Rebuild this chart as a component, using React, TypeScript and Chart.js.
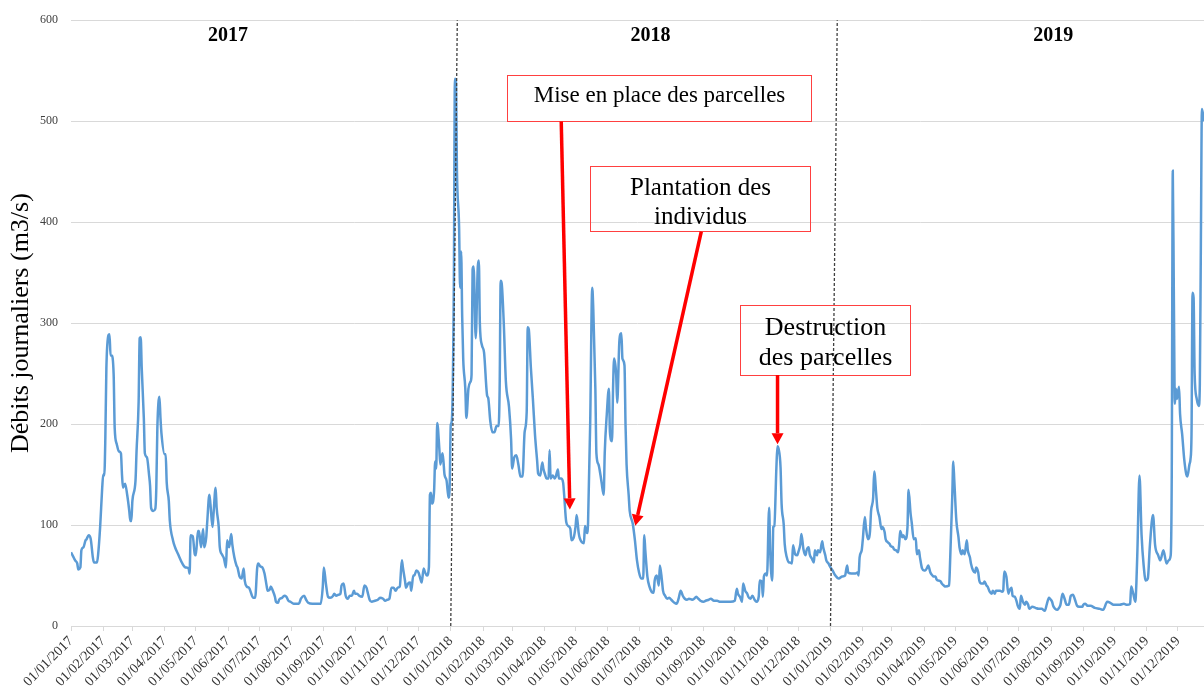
import React, { useEffect, useRef } from "react";
import { Chart, registerables } from "chart.js";

Chart.register(...registerables);

// Days elapsed since 01/01/2017
const dayOffsets: number[] = [
  0, 2, 4, 6, 7, 9, 10, 12, 14, 15, 17, 19, 21, 22, 25, 26, 28, 30, 31, 32, 33, 34, 36, 37, 38, 39, 41, 42, 44, 46, 48, 49, 50, 52, 54, 56, 57, 58, 59, 62, 63, 65, 66, 67, 68, 70, 71, 73, 75, 76, 77, 79, 81, 82, 83, 85, 86, 87, 90, 91, 92, 94, 95, 98, 100, 103, 107, 110, 113, 114, 115, 117, 119, 120, 122, 123, 125, 127, 128, 130, 131, 133, 134, 136, 137, 139, 140, 142, 143, 145, 147, 149, 150, 152, 154, 155, 157, 159, 160, 162, 164, 166, 167, 169, 171, 172, 175, 177, 179, 180, 182, 184, 186, 188, 189, 191, 192, 194, 196, 197, 199, 200, 203, 205, 207, 209, 211, 214, 217,
  219, 221, 224, 226, 228, 232, 236, 240, 242, 243, 245, 247, 249, 252, 253, 255, 257, 259, 260, 262, 264, 266, 268, 270, 272, 273, 275, 277, 280, 282, 284, 285, 287, 289, 292, 295, 297, 300, 302, 304, 306, 308, 310, 312, 314, 316, 318, 319, 321, 322, 324, 326, 327, 329, 330, 332, 334, 336, 337, 339, 340, 342, 344, 345, 346, 347, 349, 350, 351, 352, 354, 355, 357, 358, 359, 361, 362, 363, 364, 365, 366,
  368, 369, 370, 371, 373, 374, 375, 376, 377, 379, 380, 382, 384, 385, 386, 387, 389, 391, 392, 393, 395, 397, 400, 401, 403, 405, 407, 409, 411, 412, 413, 414, 416, 418, 421, 423, 424, 426, 428, 430, 432, 434, 436, 438, 439, 440, 442, 444, 446, 448, 449, 451, 453, 454, 456, 457, 459, 460, 461, 463, 465, 466, 468, 469, 471, 473, 474, 476, 478, 480, 481, 483, 485, 486, 488, 489, 491, 493, 494, 496, 497, 499, 501, 502, 504, 505, 507, 509, 510, 512, 513, 515, 517, 518, 520, 521, 522, 524, 525, 527, 528,
  529, 530, 532, 533, 534, 536, 537, 540, 542, 544, 546, 548, 550, 551, 552, 554, 556, 558, 560, 561, 563, 565, 566, 568, 569, 571, 573, 575, 577, 580, 582, 584, 586, 588, 590, 592, 594, 597, 599, 601, 603, 605, 608, 610, 613, 615, 618, 621, 624, 627, 630, 634, 638, 640, 641, 643, 645, 646, 648, 650, 651, 653, 655, 657, 659, 661, 662, 664, 665, 666, 668, 669, 671, 672, 674, 675, 676, 678, 679, 680, 682, 683, 685, 686, 688, 690, 691, 693, 694, 696, 698, 699, 701, 702, 704, 706, 707, 709, 710, 712, 714, 715, 717, 718, 720, 722, 723, 725, 726, 728, 730, 732, 734, 738, 741, 744, 746, 747, 750, 754, 756,
  757, 758, 760, 761, 763, 764, 766, 768, 769, 771, 772, 774, 775, 777, 779, 780, 782, 783, 785, 787, 788, 790, 791, 793, 795, 796, 797, 799, 800, 802, 804, 805, 807, 808, 810, 812, 813, 815, 816, 818, 820, 821, 823, 824, 826, 828, 829, 831, 832, 834, 836, 837, 839, 840, 844, 845, 847, 848, 849, 851, 853, 854, 856, 857, 859, 861, 862, 864, 865, 867, 869, 870, 872, 873, 875, 877, 878, 880, 881, 883, 885, 886, 888, 889, 891, 893, 895, 896, 897, 899, 901, 902, 904, 905, 907, 909, 910, 912, 913, 915, 917, 918, 920, 921, 924, 927, 930, 933, 936, 938, 940, 941, 943, 944, 946, 948, 949, 951, 953, 955, 957, 959, 961, 963, 965, 967, 969, 972, 973, 975, 977, 980,
  984, 989, 992, 996, 999, 1002, 1005, 1008, 1012, 1015, 1018, 1019, 1021, 1023, 1024, 1025, 1027, 1029, 1031, 1033, 1035, 1037, 1040, 1042, 1045, 1047, 1050, 1053, 1055, 1057, 1058, 1059, 1060, 1061, 1062, 1063, 1065, 1066, 1068, 1070, 1072, 1073, 1075, 1076, 1077, 1078, 1079, 1080, 1082, 1084, 1085, 1086, 1087, 1089,
];

// Daily discharge (m3/s)
const dailyFlows: number[] = [
  73, 69, 65, 62, 56, 58, 75, 78, 85, 86, 90, 86, 68, 63, 63, 70, 98, 137, 150, 149, 186, 255, 288, 289, 268, 268, 249, 196, 180, 173, 171, 150, 137, 141, 130, 114, 104, 104, 124, 144, 173, 222, 285, 286, 255, 206, 171, 167, 150, 139, 117, 114, 116, 137, 196, 227, 206, 190, 170, 170, 142, 124, 104, 85, 78, 71, 62, 58, 57, 52, 90, 89, 71, 70, 94, 94, 78, 96, 78, 88, 104, 130, 121, 98, 111, 137, 117, 98, 78, 71, 67, 58, 85, 78, 91, 81, 68, 60, 58, 49, 47, 57, 45, 39, 38, 36, 28, 28, 58, 62, 59, 58, 52, 40, 35, 36, 39, 35, 29, 24, 23, 26, 28, 30, 29, 25, 24, 22, 22,
  22, 27, 30, 26, 23, 22, 22, 22, 39, 58, 42, 29, 28, 30, 32, 30, 31, 32, 40, 42, 30, 27, 30, 30, 35, 32, 32, 30, 29, 40, 38, 34, 26, 24, 25, 26, 28, 27, 25, 26, 27, 38, 38, 35, 38, 39, 65, 58, 45, 38, 42, 43, 35, 50, 50, 55, 53, 46, 43, 57, 54, 50, 58, 130, 132, 121, 134, 163, 156, 201, 176, 160, 171, 163, 150, 144, 134, 127, 140, 199, 203,
  342, 542, 539, 449, 396, 335, 371, 306, 264, 235, 206, 235, 242, 249, 353, 356, 285, 356, 362, 299, 278, 271, 228, 226, 203, 192, 192, 198, 198, 235, 342, 339, 299, 242, 217, 185, 156, 167, 169, 160, 148, 148, 192, 212, 296, 294, 256, 224, 189, 164, 151, 149, 162, 156, 149, 146, 146, 174, 146, 149, 146, 148, 155, 146, 146, 142, 130, 103, 99, 96, 85, 87, 99, 110, 92, 87, 83, 82, 99, 92, 103, 199, 335, 314, 235, 171, 160, 149, 142, 130, 171, 210, 235, 192, 183, 235, 265, 249, 221, 281, 289,
  290, 265, 258, 199, 160, 130, 114, 101, 85, 65, 53, 47, 47, 90, 75, 49, 39, 34, 33, 45, 50, 40, 60, 45, 35, 30, 27, 28, 26, 23, 22, 27, 35, 30, 27, 26, 27, 26, 27, 29, 27, 25, 24, 25, 26, 27, 25, 25, 24, 24, 24, 24, 25, 37, 32, 29, 24, 42, 35, 32, 29, 27, 30, 26, 24, 29, 45, 44, 29, 49, 52, 50, 117, 75, 45, 98, 99, 157, 178, 176, 157, 121, 101, 81, 68, 63, 63, 62, 80, 71, 70, 73, 81, 91, 76, 70, 75, 78, 71, 67, 63, 75, 70, 75, 73, 84, 78, 70, 65, 62, 58, 55, 51, 47, 49, 50, 60, 53, 52, 52, 53,
  50, 68, 75, 85, 108, 98, 86, 94, 114, 127, 153, 130, 117, 108, 96, 98, 93, 86, 83, 81, 79, 78, 76, 75, 73, 81, 94, 88, 90, 86, 98, 135, 111, 103, 86, 87, 71, 75, 68, 57, 55, 55, 58, 60, 53, 50, 49, 49, 46, 45, 44, 42, 40, 39, 40, 65, 127, 163, 144, 104, 88, 78, 71, 75, 71, 85, 75, 68, 62, 55, 53, 58, 53, 45, 42, 42, 44, 40, 39, 34, 32, 35, 32, 35, 35, 35, 34, 35, 54, 49, 32, 35, 38, 30, 29, 24, 20, 17, 30, 24, 21, 24, 21, 17, 19, 18, 17, 17, 15, 22, 28, 27, 24, 20, 17, 16, 17, 21, 32, 27, 21, 21, 30, 31, 26, 20, 19, 19, 21, 22, 20, 20,
  18, 17, 16, 24, 23, 21, 21, 21, 22, 21, 22, 39, 32, 24, 42, 75, 149, 90, 60, 45, 47, 80, 110, 80, 70, 65, 75, 62, 65, 70, 150, 451, 330, 220, 235, 225, 237, 210, 190, 165, 150, 148, 160, 165, 190, 330, 325, 250, 225, 218, 240, 380, 512, 500,
];

const monthTickLabels: string[] = [
  "01/01/2017", "01/02/2017", "01/03/2017", "01/04/2017", "01/05/2017", "01/06/2017", "01/07/2017", "01/08/2017", "01/09/2017", "01/10/2017", "01/11/2017", "01/12/2017",
  "01/01/2018", "01/02/2018", "01/03/2018", "01/04/2018", "01/05/2018", "01/06/2018", "01/07/2018", "01/08/2018", "01/09/2018", "01/10/2018", "01/11/2018", "01/12/2018",
  "01/01/2019", "01/02/2019", "01/03/2019", "01/04/2019", "01/05/2019", "01/06/2019", "01/07/2019", "01/08/2019", "01/09/2019", "01/10/2019", "01/11/2019", "01/12/2019",
];

const yAxisTitle = "Débits journaliers (m3/s)";

const yearLabels = ["2017", "2018", "2019"];
const yearLabelDays = [151, 557, 944];
const yearLabelValue = 585;

// dashed year separators (slightly slanted, as in the original)
const separatorBottomDays = [365, 730];
const separatorTopDays = [371.3, 736.5];

const calloutTexts: string[][] = [
  ["Mise en place des parcelles"],
  ["Plantation des", "individus"],
  ["Destruction", "des parcelles"],
];
const calloutFontSizes = [23, 25, 26];
// boxes in data units: [dayStart, dayEnd, valueTop, valueBottom]
const calloutBoxes: number[][] = [
  [419.0, 711.5, 545.6, 499.7],
  [499.1, 710.5, 455.7, 390.8],
  [643.3, 806.7, 318.0, 248.6],
];
// arrows in data units: [dayStart, valueStart, dayTip, valueTip]
const calloutArrows: number[][] = [
  [471.2, 499.7, 479.5, 115.5],
  [605.8, 390.5, 542.4, 99.3],
  [679.1, 248.6, 679.1, 180.0],
];

const SERIF = '"Liberation Serif", "Times New Roman", serif';

const monthTickDays = monthTickLabels.map((lbl) => {
  const [d, m, y] = lbl.split("/").map(Number);
  return Math.round((Date.UTC(y, m - 1, d) - Date.UTC(2017, 0, 1)) / 86400000);
});

const overlayPlugin = {
  id: "overlay",
  afterDatasetsDraw(chart: any) {
    const { ctx } = chart;
    const xs = chart.scales.x;
    const ys = chart.scales.y;
    const px = (d: number) => xs.getPixelForValue(d);
    const py = (v: number) => ys.getPixelForValue(v);
    ctx.save();

    // separators
    ctx.strokeStyle = "#404040";
    ctx.lineWidth = 1.3;
    ctx.setLineDash([3, 2]);
    separatorBottomDays.forEach((bd, i) => {
      ctx.beginPath();
      ctx.moveTo(px(bd), py(0));
      ctx.lineTo(px(separatorTopDays[i]), py(600));
      ctx.stroke();
    });
    ctx.setLineDash([]);

    // year labels
    ctx.fillStyle = "#000";
    ctx.font = `bold 20px ${SERIF}`;
    ctx.textAlign = "center";
    ctx.textBaseline = "middle";
    yearLabels.forEach((t, i) => ctx.fillText(t, px(yearLabelDays[i]), py(yearLabelValue)));

    // callout boxes
    calloutBoxes.forEach((b, i) => {
      const x0 = Math.round(px(b[0])) + 0.5;
      const x1 = Math.round(px(b[1])) + 0.5;
      const y0 = Math.round(py(b[2])) + 0.5;
      const y1 = Math.round(py(b[3])) + 0.5;
      ctx.strokeStyle = "#ff4040";
      ctx.lineWidth = 1;
      ctx.strokeRect(x0, y0, x1 - x0, y1 - y0);
      const fs = calloutFontSizes[i];
      ctx.font = `${fs}px ${SERIF}`;
      ctx.fillStyle = "#000";
      ctx.textAlign = "center";
      ctx.textBaseline = "alphabetic";
      const cx = (x0 + x1) / 2;
      calloutTexts[i].forEach((line, j) => {
        ctx.fillText(line, cx, y0 + 1.15 * fs + j * 1.15 * fs);
      });
    });

    // arrows
    calloutArrows.forEach((a) => {
      const sx = px(a[0]), sy = py(a[1]);
      const tx = px(a[2]), ty = py(a[3]);
      const ang = Math.atan2(ty - sy, tx - sx);
      const headLen = 11;
      const headHalf = 6;
      const bx = tx - headLen * Math.cos(ang);
      const by = ty - headLen * Math.sin(ang);
      ctx.strokeStyle = "#ff0000";
      ctx.fillStyle = "#ff0000";
      ctx.lineWidth = 3.5;
      ctx.beginPath();
      ctx.moveTo(sx, sy);
      ctx.lineTo(bx, by);
      ctx.stroke();
      ctx.beginPath();
      ctx.moveTo(tx, ty);
      ctx.lineTo(bx + headHalf * Math.sin(ang), by - headHalf * Math.cos(ang));
      ctx.lineTo(bx - headHalf * Math.sin(ang), by + headHalf * Math.cos(ang));
      ctx.closePath();
      ctx.fill();
    });

    ctx.restore();
  },
};

export default function App() {
  const canvasRef = useRef<HTMLCanvasElement | null>(null);

  useEffect(() => {
    document.body.style.margin = "0";
    const canvas = canvasRef.current;
    if (!canvas) return;
    const chart = new Chart(canvas, {
      type: "line",
      data: {
        datasets: [
          {
            data: dayOffsets.map((d, i) => ({ x: d, y: dailyFlows[i] })),
            borderColor: "#5b9bd5",
            borderWidth: 2.5,
            pointRadius: 0,
            fill: false,
            cubicInterpolationMode: "monotone",
          },
        ],
      },
      options: {
        responsive: false,
        animation: false,
        devicePixelRatio: 1,
        layout: { padding: { top: 16, left: 0, right: 0, bottom: 0 } },
        plugins: { legend: { display: false }, tooltip: { enabled: false } },
        scales: {
          x: {
            type: "linear",
            min: 0,
            max: 1089,
            afterBuildTicks: (s: any) => {
              s.ticks = monthTickDays.map((v) => ({ value: v }));
            },
            afterFit: (s: any) => {
              s.height = 62;
            },
            ticks: {
              autoSkip: false,
              minRotation: 45,
              maxRotation: 45,
              padding: 2,
              color: "#333",
              font: { family: SERIF, size: 14 },
              callback: (_v: any, i: number) => monthTickLabels[i],
            },
            grid: { drawOnChartArea: false, drawTicks: true, tickLength: 5, color: "#d9d9d9" },
            border: { color: "#d9d9d9" },
          },
          y: {
            min: 0,
            max: 600,
            afterFit: (s: any) => {
              s.width = 71;
            },
            ticks: {
              stepSize: 100,
              padding: 13,
              color: "#404040",
              font: { family: SERIF, size: 12 },
            },
            grid: { color: "#d9d9d9", drawTicks: false },
            border: { display: false },
            title: {
              display: true,
              text: yAxisTitle,
              color: "#000",
              font: { family: SERIF, size: 26 },
              padding: { top: 6, bottom: 0 },
            },
          },
        },
      },
      plugins: [overlayPlugin],
    } as any);
    return () => chart.destroy();
  }, []);

  return (
    <div style={{ position: "absolute", left: 0, top: 0, width: 1204, height: 688 }}>
      <canvas ref={canvasRef} width={1204} height={688} style={{ width: 1204, height: 688 }} />
    </div>
  );
}
